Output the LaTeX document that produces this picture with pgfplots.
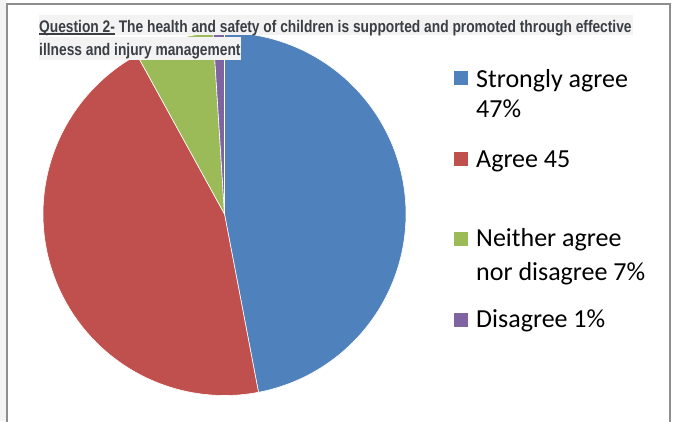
\documentclass[border=0pt]{standalone}
\usepackage{pgfplots}
\pgfplotsset{compat=1.18}
\usepackage{pgfplotstable}
\usepackage{fontspec}
\setmainfont{Liberation Sans}
\newfontfamily\legfont{Carlito}
\newfontfamily\titfont[FakeStretch=0.82]{Liberation Sans}

\definecolor{sblue}{HTML}{4F81BD}
\definecolor{sred}{HTML}{C0504D}
\definecolor{sgreen}{HTML}{9BBB59}
\definecolor{spurple}{HTML}{8064A2}
\definecolor{titgray}{HTML}{F2F3F2}
\definecolor{tittext}{HTML}{3B3F44}
\definecolor{framegray}{HTML}{8E8E8E}

% thick underline without ulem
\newcommand{\thickul}[1]{\setbox0\hbox{#1}\rlap{\rule[-2.6pt]{\wd0}{1.3pt}}\box0\relax}

% shares in percent, clockwise from 12 o'clock
\pgfplotstableread{
label share
Strongly 47
Agree 45
Neither 7
Disagree 1
}\piedata
\pgfplotstablegetelem{0}{share}\of\piedata \let\sA\pgfplotsretval
\pgfplotstablegetelem{1}{share}\of\piedata \let\sB\pgfplotsretval
\pgfplotstablegetelem{2}{share}\of\piedata \let\sC\pgfplotsretval
\pgfplotstablegetelem{3}{share}\of\piedata \let\sD\pgfplotsretval
\pgfmathsetmacro\angA{90}
\pgfmathsetmacro\angB{\angA-3.6*\sA}
\pgfmathsetmacro\angC{\angB-3.6*\sB}
\pgfmathsetmacro\angD{\angC-3.6*\sC}
\pgfmathsetmacro\angE{\angD-3.6*\sD}

\begin{document}
\begin{tikzpicture}
  % page = 676 x 421, pie centre at pixel (224.5, 214)
  \useasboundingbox (-224.5pt,-207pt) rectangle (451.5pt,214pt);
  \fill[white] (-224.5pt,-207pt) rectangle (451.5pt,214pt);
  \fill[titgray] (-224.5pt,-207pt) rectangle (-218pt,214pt);
  \draw[framegray, line width=1.5pt] (-217.5pt,-210pt) -- (-217.5pt,210pt) -- (445.5pt,210pt) -- (445.5pt,-210pt);

  \begin{axis}[at={(0,0)}, anchor=origin,
    x=181.5pt, y=181.5pt,
    xmin=-1.1, xmax=1.1, ymin=-1.1, ymax=1.1,
    hide axis, clip=false]
    \addplot[fill=sblue, draw=white, line width=0.6pt, domain=\angB:\angA, samples=120]
      ({cos(x)},{sin(x)}) -- (axis cs:0,0) -- cycle;
    \addplot[fill=sred, draw=white, line width=0.6pt, domain=\angC:\angB, samples=120]
      ({cos(x)},{sin(x)}) -- (axis cs:0,0) -- cycle;
    \addplot[fill=sgreen, draw=white, line width=0.6pt, domain=\angD:\angC, samples=30]
      ({cos(x)},{sin(x)}) -- (axis cs:0,0) -- cycle;
    \addplot[fill=spurple, draw=white, line width=0.6pt, domain=\angE:\angD, samples=10]
      ({cos(x)},{sin(x)}) -- (axis cs:0,0) -- cycle;
  \end{axis}

  % title
  \fill[titgray] (-185.5pt,179pt) rectangle (408.5pt,199pt);
  \fill[titgray] (-185.5pt,154pt) rectangle (16.5pt,177pt);
  \node[anchor=base west, inner sep=0pt, text=tittext, font=\titfont\bfseries\fontsize{16.8}{19}\selectfont]
    at (-185.5pt,182pt) {\thickul{Question 2-} The health and safety of children is supported and promoted through effective};
  \node[anchor=base west, inner sep=0pt, text=tittext, font=\titfont\bfseries\fontsize{16.8}{19}\selectfont]
    at (-185.5pt,159pt) {illness and injury management};

  % legend
  \begin{scope}[every node/.style={anchor=base west, inner sep=0pt, font=\legfont\fontsize{26}{30}\selectfont}]
    \fill[sblue] (229.5pt,129pt) rectangle (243.5pt,143pt);
    \node at (251.5pt,127pt) {Strongly agree};
    \node at (251.5pt,97pt) {47\%};
    \fill[sred] (229.5pt,48pt) rectangle (243.5pt,62pt);
    \node at (251.5pt,47pt) {Agree 45};
    \fill[sgreen] (229.5pt,-32pt) rectangle (243.5pt,-18pt);
    \node at (251.5pt,-32pt) {Neither agree};
    \node at (251.5pt,-66pt) {nor disagree 7\%};
    \fill[spurple] (229.5pt,-113pt) rectangle (243.5pt,-99pt);
    \node at (251.5pt,-113pt) {Disagree 1\%};
  \end{scope}
\end{tikzpicture}
\end{document}
